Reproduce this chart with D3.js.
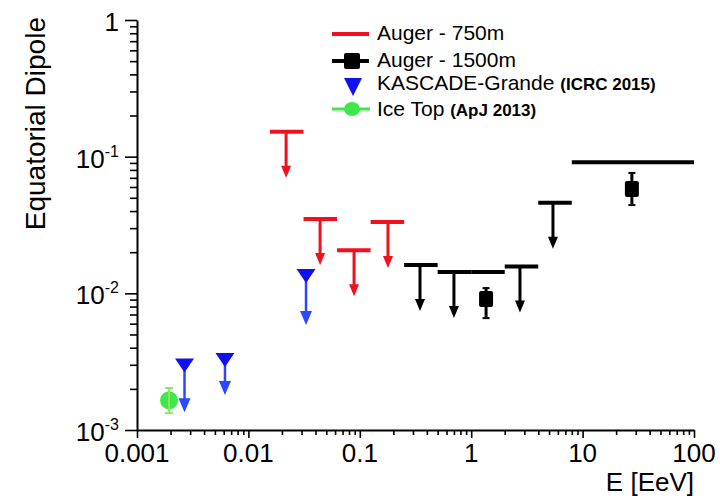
<!DOCTYPE html>
<html><head><meta charset="utf-8">
<script src="https://cdn.jsdelivr.net/npm/d3@7"></script>
<style>
body{margin:0;background:#fff}
svg{display:block}
text{font-family:"Liberation Sans",Arial,Helvetica,sans-serif;fill:#000}
</style></head>
<body><svg id="c" width="720" height="498"></svg>
<script>
// ---------- data ----------
const xTicksMajor = [0.001, 0.01, 0.1, 1, 10, 100];
const xTickLabels = ["0.001", "0.01", "0.1", "1", "10", "100"];
const yTicksMajor = [0.001, 0.01, 0.1, 1];
const yTickBase = ["10", "10", "10", "1"];
const yTickExp = ["-3", "-2", "-1", ""];

// Auger 750m upper limits
const a750_E = [0.0218, 0.044, 0.0888, 0.179];
const a750_binLo = [0.0156, 0.03125, 0.0625, 0.125];
const a750_binHi = [0.03125, 0.0625, 0.125, 0.25];
const a750_UL = [0.152, 0.035, 0.0207, 0.0333];

// Auger 1500m
const a1500_E = [0.347, 0.70, 1.36, 2.74, 5.42, 27.7];
const a1500_binLo = [0.25, 0.5, 1, 2, 4, 8];
const a1500_binHi = [0.5, 1, 2, 4, 8, 100];
const a1500_UL = [0.0161, 0.0143, 0.0143, 0.0157, 0.046, 0.091];
const a1500_amp = [null, null, 0.0091, null, null, 0.058];
const a1500_errLo = [null, null, 0.0067, null, null, 0.045];
const a1500_errHi = [null, null, 0.0111, null, null, 0.0773];

// KASCADE-Grande upper limits
const kg_E = [0.00267, 0.00616, 0.0329];
const kg_UL = [0.00297, 0.00325, 0.0134];
const kg_arrowTo = [0.00135, 0.0018, 0.00586];

// IceTop
const it_E = [0.00194];
const it_amp = [0.00165];
const it_errLo = [0.00133];
const it_errHi = [0.00203];

// ---------- chart ----------
const RED = "#f0101e", BLACK = "#000", BLUE = "#1010f0", BLUE2 = "#2a48ff", GREEN = "#3ee84a", GREEN2 = "#8fe85a";
const svg = d3.select("#c");
const x = d3.scaleLog().domain([0.001, 100]).range([137, 694]);
const y = d3.scaleLog().domain([0.001, 1]).range([430, 20]);
const isMajor = d => Math.abs(Math.log10(d) - Math.round(Math.log10(d))) < 1e-9;

const xAll = [];
for (let e = -3; e <= 1; e++) for (let k = 1; k <= 9; k++) xAll.push(k * Math.pow(10, e));
xAll.push(100);
const yAll = [];
for (let e = -3; e <= -1; e++) for (let k = 1; k <= 9; k++) yAll.push(k * Math.pow(10, e));
yAll.push(1);

const gx = svg.append("g").attr("transform", "translate(0,430)")
  .call(d3.axisBottom(x).tickValues(xAll).tickFormat("").tickSizeOuter(0));
gx.select(".domain").attr("stroke", "#000").attr("stroke-width", 2);
gx.selectAll(".tick line").attr("stroke", "#000").attr("stroke-width", 1.6).attr("y2", d => isMajor(d) ? 8 : 5);

const gy = svg.append("g").attr("transform", "translate(137,0)")
  .call(d3.axisLeft(y).tickValues(yAll).tickFormat("").tickSizeOuter(0));
gy.select(".domain").attr("stroke", "#000").attr("stroke-width", 2);
gy.selectAll(".tick line").attr("stroke", "#000").attr("stroke-width", 1.6).attr("x2", d => isMajor(d) ? -12 : -7);

// tick labels
svg.append("g").selectAll("text").data(xTicksMajor).join("text")
  .attr("x", d => x(d)).attr("y", 462).attr("text-anchor", "middle")
  .attr("font-size", 26).text((d, i) => xTickLabels[i]);

const yl = svg.append("g").selectAll("text").data(yTicksMajor).join("text")
  .attr("x", 119).attr("y", d => y(d) + 11).attr("text-anchor", "end").attr("font-size", 26);
yl.append("tspan").text((d, i) => yTickBase[i]);
yl.append("tspan").attr("font-size", 16).attr("dy", -11).text((d, i) => yTickExp[i]);

// axis titles
svg.append("text").attr("x", 694).attr("y", 491).attr("text-anchor", "end").attr("font-size", 26).text("E [EeV]");
svg.append("text").attr("transform", "translate(45,17) rotate(-90)").attr("text-anchor", "end")
  .attr("font-size", 28).text("Equatorial Dipole");

// helpers
function downArrow(g, cx, y0, tip, color, lw, hw, hl) {
  g.append("line").attr("x1", cx).attr("x2", cx).attr("y1", y0).attr("y2", tip - hl + 1)
    .attr("stroke", color).attr("stroke-width", lw);
  g.append("path").attr("d", `M${cx - hw / 2},${tip - hl}L${cx + hw / 2},${tip - hl}L${cx},${tip}Z`).attr("fill", color);
}
const ARROW_LEN = 46;

// Auger 750m
const g750 = svg.append("g");
a750_E.forEach((e, i) => {
  const yy = y(a750_UL[i]);
  g750.append("line").attr("x1", x(a750_binLo[i])).attr("x2", x(a750_binHi[i])).attr("y1", yy).attr("y2", yy)
    .attr("stroke", RED).attr("stroke-width", 4);
  downArrow(g750, x(e), yy, yy + ARROW_LEN, RED, 3, 10, 12);
});

// Auger 1500m
const g1500 = svg.append("g");
a1500_E.forEach((e, i) => {
  const yy = y(a1500_UL[i]);
  g1500.append("line").attr("x1", x(a1500_binLo[i])).attr("x2", x(a1500_binHi[i])).attr("y1", yy).attr("y2", yy)
    .attr("stroke", BLACK).attr("stroke-width", 4);
  if (a1500_amp[i] == null) {
    downArrow(g1500, x(e), yy, yy + ARROW_LEN, BLACK, 3, 10, 12);
  } else {
    const cx = x(e), cy = y(a1500_amp[i]);
    const t = y(a1500_errHi[i]), b = y(a1500_errLo[i]);
    g1500.append("line").attr("x1", cx).attr("x2", cx).attr("y1", t).attr("y2", b).attr("stroke", BLACK).attr("stroke-width", 3);
    [t, b].forEach(v => g1500.append("line").attr("x1", cx - 3.5).attr("x2", cx + 3.5).attr("y1", v + 1).attr("y2", v + 1)
      .attr("stroke", BLACK).attr("stroke-width", 2));
    g1500.append("rect").attr("x", cx - 7).attr("y", cy - 8).attr("width", 14).attr("height", 16).attr("rx", 2).attr("fill", BLACK);
  }
});

// KASCADE-Grande
const gkg = svg.append("g");
kg_E.forEach((e, i) => {
  const cx = x(e), cy = y(kg_UL[i]);
  downArrow(gkg, cx, cy, y(kg_arrowTo[i]), BLUE2, 2.5, 12, 14);
  gkg.append("path").attr("d", `M${cx - 9.5},${cy - 7}L${cx + 9.5},${cy - 7}L${cx},${cy + 7}Z`).attr("fill", BLUE);
});

// IceTop
const git = svg.append("g");
it_E.forEach((e, i) => {
  const cx = x(e), cy = y(it_amp[i]);
  git.append("circle").attr("cx", cx).attr("cy", cy).attr("r", 9).attr("fill", GREEN);
  const t = y(it_errHi[i]), b = y(it_errLo[i]);
  git.append("line").attr("x1", cx).attr("x2", cx).attr("y1", t).attr("y2", b).attr("stroke", GREEN2).attr("stroke-width", 2);
  [t, b].forEach(v => git.append("line").attr("x1", cx - 4).attr("x2", cx + 4).attr("y1", v).attr("y2", v)
    .attr("stroke", GREEN2).attr("stroke-width", 2));
});

// legend
const lg = svg.append("g");
lg.append("line").attr("x1", 332).attr("x2", 369).attr("y1", 34).attr("y2", 34).attr("stroke", RED).attr("stroke-width", 4);
lg.append("line").attr("x1", 332).attr("x2", 369).attr("y1", 61).attr("y2", 61).attr("stroke", BLACK).attr("stroke-width", 4);
lg.append("rect").attr("x", 344).attr("y", 53).attr("width", 16).attr("height", 16).attr("rx", 2).attr("fill", BLACK);
lg.append("path").attr("d", "M344,78L362,78L353,96Z").attr("fill", BLUE);
lg.append("line").attr("x1", 332).attr("x2", 370).attr("y1", 109).attr("y2", 109).attr("stroke", GREEN).attr("stroke-width", 3);
lg.append("ellipse").attr("cx", 352).attr("cy", 109).attr("rx", 8).attr("ry", 7).attr("fill", GREEN);

const legNames = ["Auger - 750m", "Auger - 1500m", "KASCADE-Grande ", "Ice Top "];
const legRefs = ["", "", "(ICRC 2015)", "(ApJ 2013)"];
const legY = [40, 67, 90, 116];
legNames.forEach((n, i) => {
  const t = lg.append("text").attr("x", 377).attr("y", legY[i]).attr("font-size", 21);
  t.append("tspan").text(n);
  if (legRefs[i]) t.append("tspan").attr("font-size", 17).attr("font-weight", "bold").text(legRefs[i]);
});
</script></body></html>
